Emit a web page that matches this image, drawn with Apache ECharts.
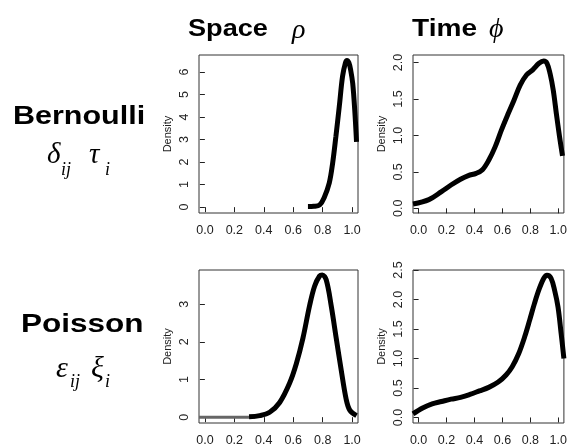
<!DOCTYPE html>
<html>
<head>
<meta charset="utf-8">
<script src="https://cdn.jsdelivr.net/npm/echarts@6/dist/echarts.min.js"></script>
<style>
  html, body { margin: 0; padding: 0; background: #fff; }
  #chart { width: 570px; height: 447px; }
</style>
</head>
<body>
<div id="chart"></div>
<script>
// tick values
const xTicks = [0, 0.2, 0.4, 0.6, 0.8, 1.0]
const spaceBernoulliTicks = [0, 1, 2, 3, 4, 5, 6]
const timeBernoulliTicks = [0, 0.5, 1, 1.5, 2]
const spacePoissonTicks = [0, 1, 2, 3]
const timePoissonTicks = [0, 0.5, 1, 1.5, 2, 2.5]

// density curves [x, density]
const spaceBernoulli = [[0.70, 0.03], [0.74, 0.04], [0.78, 0.1], [0.81, 0.42], [0.845, 1.08], [0.868, 1.97],
  [0.89, 3.15], [0.913, 4.48], [0.935, 5.81], [0.955, 6.42], [0.965, 6.52], [0.978, 6.42], [0.99, 6.1],
  [1.004, 5.5], [1.018, 4.3], [1.03, 2.9]]
const timeBernoulli = [[-0.04, 0.06], [0.074, 0.12], [0.164, 0.23], [0.232, 0.32], [0.3, 0.40], [0.356, 0.45],
  [0.412, 0.48], [0.457, 0.53], [0.502, 0.66], [0.547, 0.84], [0.592, 1.07], [0.637, 1.28], [0.682, 1.48],
  [0.727, 1.69], [0.772, 1.83], [0.817, 1.90], [0.862, 1.99], [0.896, 2.02], [0.919, 1.99], [0.941, 1.85],
  [0.964, 1.62], [0.986, 1.30], [1.009, 0.98], [1.03, 0.72]]
const spacePoissonTail = [[-0.04, 0], [0.34, 0]]
const spacePoisson = [[0.30, 0.01], [0.372, 0.04], [0.44, 0.13], [0.508, 0.39], [0.575, 0.9], [0.621, 1.42],
  [0.666, 2.1], [0.711, 2.96], [0.745, 3.48], [0.779, 3.75], [0.797, 3.78], [0.824, 3.65], [0.858, 2.96],
  [0.892, 2.1], [0.926, 1.25], [0.96, 0.47], [0.985, 0.18], [1.03, 0.04]]
const timePoisson = [[-0.04, 0.06], [0.029, 0.16], [0.097, 0.23], [0.164, 0.27], [0.232, 0.31], [0.3, 0.34],
  [0.367, 0.39], [0.435, 0.45], [0.502, 0.51], [0.57, 0.60], [0.626, 0.72], [0.67, 0.86], [0.716, 1.08],
  [0.761, 1.38], [0.795, 1.65], [0.829, 1.93], [0.862, 2.17], [0.896, 2.36], [0.919, 2.41], [0.948, 2.36],
  [0.975, 2.14], [0.998, 1.87], [1.02, 1.43], [1.04, 1.0]]

const chart = echarts.init(document.getElementById('chart'), null, { renderer: 'canvas' })

const tickFont = { fontFamily: 'Liberation Sans', fontSize: 12.5, color: '#222' }

function xAxis(gridIndex) {
  return {
    type: 'value', gridIndex, min: -0.04, max: 1.04,
    splitLine: { show: false },
    axisLine: { show: false },
    axisTick: { show: true, length: 5, customValues: xTicks, lineStyle: { color: '#222' } },
    axisLabel: Object.assign({ margin: 11, customValues: xTicks, formatter: v => v.toFixed(1) }, tickFont)
  }
}
function yAxis(gridIndex, min, max, ticks, digits) {
  return {
    type: 'value', gridIndex, min, max,
    name: 'Density', nameLocation: 'middle', nameGap: 26,
    nameTextStyle: { fontFamily: 'Liberation Sans', fontSize: 11, color: '#222' },
    splitLine: { show: false },
    axisLine: { show: false },
    axisTick: { show: true, length: 5, customValues: ticks, lineStyle: { color: '#222' } },
    axisLabel: Object.assign({ margin: 8, rotate: 90, customValues: ticks, formatter: v => v.toFixed(digits) }, tickFont)
  }
}
function curve(i, data, color, width) {
  return {
    type: 'line', xAxisIndex: i, yAxisIndex: i, data,
    showSymbol: false, smooth: 0.35, clip: true,
    lineStyle: { color: color || '#000', width: width || 5 }
  }
}
function word(text, x, y, size, scale) {
  return {
    type: 'text', x, y, scaleX: scale,
    style: { text, font: 'bold ' + size + 'px "Liberation Sans", Arial', fill: '#000', verticalAlign: 'middle' }
  }
}
function greek(text, x, y, size) {
  return {
    type: 'text', x, y,
    style: { text, font: 'italic ' + size + 'px "Liberation Serif", serif', fill: '#000', verticalAlign: 'middle' }
  }
}

const gridBox = { show: true, borderColor: '#333', borderWidth: 1, backgroundColor: 'transparent' }

chart.setOption({
  backgroundColor: '#fff',
  animation: false,
  grid: [
    Object.assign({ left: 199, top: 55, width: 159, height: 158 }, gridBox),
    Object.assign({ left: 413, top: 55, width: 160, height: 158 }, gridBox),
    Object.assign({ left: 199, top: 270, width: 159, height: 158 }, gridBox),
    Object.assign({ left: 413, top: 270, width: 160, height: 158 }, gridBox)
  ],
  xAxis: [xAxis(0), xAxis(1), xAxis(2), xAxis(3)],
  yAxis: [
    yAxis(0, -0.26, 6.76, spaceBernoulliTicks, 0),
    yAxis(1, -0.064, 2.104, timeBernoulliTicks, 1),
    yAxis(2, -0.155, 3.91, spacePoissonTicks, 0),
    yAxis(3, -0.094, 2.5, timePoissonTicks, 1)
  ],
  series: [
    curve(0, spaceBernoulli),
    curve(1, timeBernoulli),
    curve(2, spacePoissonTail, '#666', 3),
    curve(2, spacePoisson),
    curve(3, timePoisson)
  ],
  graphic: [
    word('Space', 188, 30, 23, 1.18),
    greek('ρ', 292, 31, 28),
    word('Time', 412, 30, 23, 1.22),
    greek('ϕ', 489, 30, 28),
    word('Bernoulli', 13, 117, 25, 1.22),
    greek('δ', 47, 155, 29),
    greek('ij', 61, 170, 18),
    greek('τ', 89, 155, 29),
    greek('i', 105, 170, 18),
    word('Poisson', 21, 325, 25, 1.26),
    greek('ε', 56, 369, 30),
    greek('ij', 70, 382, 18),
    greek('ξ', 91, 369, 30),
    greek('i', 105, 382, 18)
  ]
})
</script>
</body>
</html>
